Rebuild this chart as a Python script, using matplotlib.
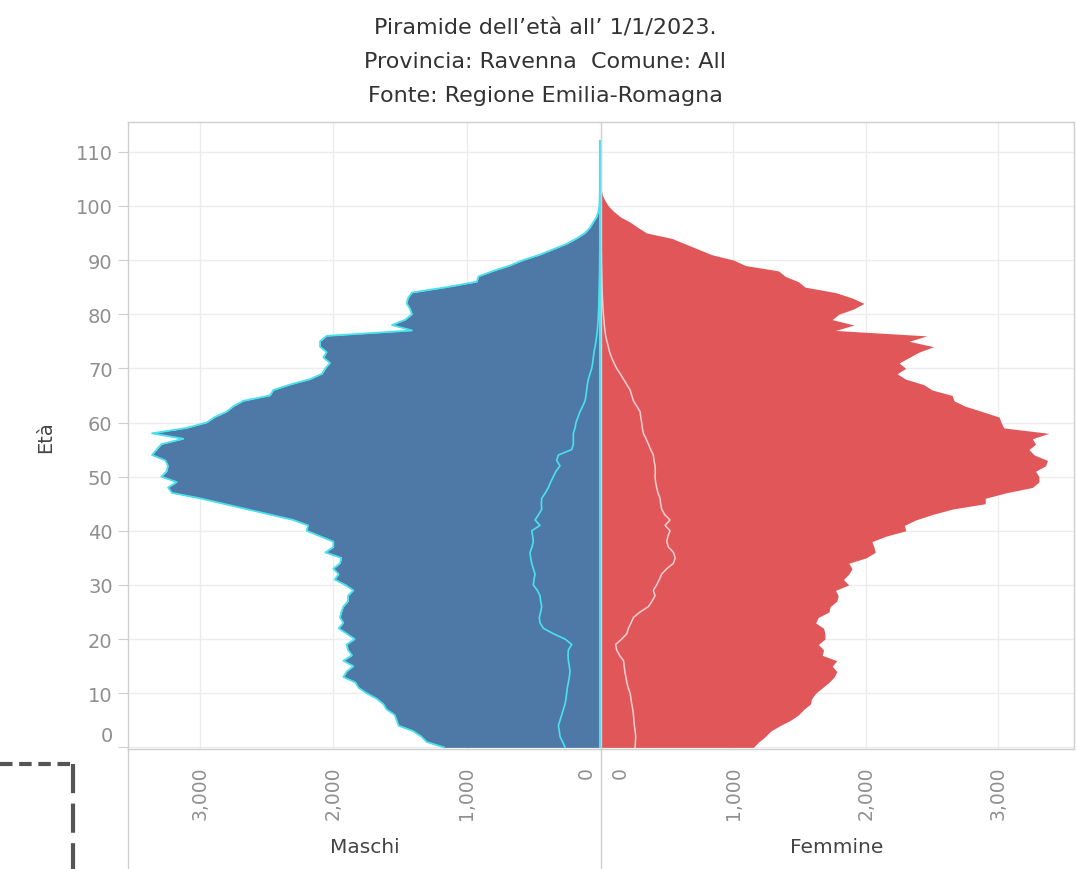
import numpy as np
import matplotlib
matplotlib.use("Agg")
import matplotlib.pyplot as plt
import matplotlib.transforms as mtransforms
from matplotlib.lines import Line2D

# eta' 0..112
eta = list(range(0, 113))

maschi = [1170, 1300, 1340, 1400, 1510, 1525, 1540, 1600, 1625, 1675,
          1750, 1810, 1835, 1925, 1900, 1850, 1925, 1860, 1890, 1900,
          1840, 1900, 1960, 1925, 1950, 1940, 1925, 1890, 1890, 1850,
          1910, 1990, 1960, 2000, 1950, 1940, 2060, 2000, 2000, 2100,
          2200, 2190, 2300, 2475, 2650, 2825, 3000, 3210, 3240, 3175,
          3290, 3250, 3240, 3260, 3360, 3325, 3290, 3125, 3360, 3100,
          2950, 2890, 2800, 2750, 2675, 2475, 2450, 2325, 2175, 2085,
          2060, 2025, 2075, 2050, 2100, 2100, 2050, 1410, 1560, 1460,
          1410, 1425, 1450, 1440, 1410, 1150, 925, 910, 800, 675,
          575, 450, 350, 250, 175, 112, 75, 50, 25, 12,
          5, 3, 2, 1, 1, 1, 0, 0, 0, 0, 0, 0, 1]

femmine = [1150, 1190, 1240, 1280, 1350, 1430, 1490, 1530, 1580, 1590,
           1620, 1670, 1720, 1760, 1780, 1745, 1780, 1670, 1680, 1640,
           1690, 1690, 1680, 1620, 1640, 1720, 1730, 1780, 1790, 1770,
           1870, 1830, 1870, 1895, 1870, 2000, 2070, 2060, 2045, 2150,
           2300, 2290, 2375, 2500, 2650, 2900, 2900, 3055, 3255, 3305,
           3305, 3280, 3355, 3370, 3270, 3230, 3280, 3255, 3380, 3040,
           3020, 3005, 2880, 2750, 2665, 2650, 2500, 2435, 2300, 2235,
           2300, 2250, 2325, 2400, 2510, 2325, 2460, 1770, 1910, 1745,
           1795, 1910, 1985, 1895, 1770, 1540, 1490, 1390, 1340, 1090,
           1000, 835, 735, 635, 535, 345, 280, 220, 145, 95,
           55, 30, 10, 3, 1, 0, 0, 0, 0, 0, 0, 0, 0]

# stranieri
maschi_str = [262, 280, 300, 305, 312, 300, 287, 275, 262, 255,
              250, 245, 237, 230, 225, 230, 237, 240, 237, 212,
              262, 350, 425, 450, 455, 445, 437, 445, 450, 470,
              500, 495, 487, 500, 512, 520, 525, 510, 500, 505,
              512, 450, 487, 460, 437, 440, 437, 410, 387, 370,
              350, 330, 300, 325, 312, 212, 200, 200, 200, 187,
              180, 165, 150, 130, 112, 105, 100, 95, 87, 75,
              62, 55, 50, 45, 37, 30, 25, 20, 17, 14,
              12, 10, 9, 8, 7, 6, 5, 4, 3, 3,
              2, 2, 1, 1, 1, 0, 0, 0, 0, 0,
              0, 0, 0, 0, 0, 0, 0, 0, 0, 0, 0, 0, 0]

femmine_str = [257, 260, 262, 258, 252, 248, 245, 240, 232, 226,
               220, 205, 195, 188, 180, 175, 170, 140, 118, 110,
               156, 195, 207, 227, 245, 295, 358, 385, 408, 395,
               420, 440, 458, 496, 547, 560, 547, 509, 496, 505,
               521, 484, 521, 480, 458, 450, 446, 430, 420, 412,
               408, 410, 408, 400, 395, 375, 358, 340, 320, 312,
               307, 300, 295, 270, 245, 232, 220, 195, 170, 145,
               118, 98, 80, 65, 55, 45, 35, 30, 25, 22,
               18, 15, 13, 11, 9, 8, 7, 6, 5, 4,
               3, 3, 2, 2, 1, 1, 1, 0, 0, 0,
               0, 0, 0, 0, 0, 0, 0, 0, 0, 0, 0, 0, 0]

xticks = [0, 1000, 2000, 3000]
yticks = list(range(0, 111, 10))

blu = "#4e79a7"
rosso = "#e15759"
ciano = "#48e2ef"
grigio = "#8f8f8f"
bordo = "#cfcfcf"
scuro = "#444444"

W, H = 1077, 870
fig = plt.figure(figsize=(W / 100, H / 100), dpi=100)
axm = fig.add_axes([128 / W, 1 - 750 / H, 472 / W, 627 / H])
axf = fig.add_axes([601 / W, 1 - 750 / H, 473 / W, 627 / H])

for ax in (axm, axf):
    ax.set_axisbelow(True)
    ax.grid(color="#ececec", lw=1)
    ax.set_ylim(-0.3, 115.5)
    ax.set_yticks(yticks)
    ax.set_xticks(xticks)
    ax.set_xticklabels(["{:,}".format(v) for v in xticks], rotation=90)
    ax.tick_params(axis="x", length=0, pad=12, labelsize=13.5, labelcolor=grigio)
    for s in ax.spines.values():
        s.set_color(bordo)
        s.set_linewidth(1)

axm.set_xlim(3540, 0)
axf.set_xlim(0, 3570)
axm.spines["right"].set_visible(False)

axm.tick_params(axis="y", length=7, color=bordo, pad=4, labelsize=14, labelcolor=grigio)
axf.tick_params(axis="y", length=0, labelleft=False)

# maschi
axm.fill_betweenx(eta, 0, maschi, color=blu, lw=0)
axm.plot(maschi, eta, color=ciano, lw=1.3)
axm.plot(np.zeros(len(eta)), eta, color=ciano, lw=1.5, clip_on=False, zorder=5)
axm.plot(maschi_str, eta, color=ciano, lw=1.2)

# femmine
axf.fill_betweenx(eta, 0, femmine, color=rosso, lw=0)
axf.plot(femmine_str, eta, color="#f6cfcf", lw=1.1)

# sposta le etichette "0" come in tableau
lab0 = axm.get_xticklabels()[0]
lab0.set_transform(lab0.get_transform() + mtransforms.ScaledTranslation(-14 / 100, 0, fig.dpi_scale_trans))
lab0 = axf.get_xticklabels()[0]
lab0.set_transform(lab0.get_transform() + mtransforms.ScaledTranslation(19 / 100, 0, fig.dpi_scale_trans))
lab0 = axm.get_yticklabels()[0]
lab0.set_transform(lab0.get_transform() + mtransforms.ScaledTranslation(0, 14 / 100, fig.dpi_scale_trans))

# linee del pannello sotto gli assi
for xp in (128, 601):
    fig.add_artist(Line2D([xp / W, xp / W], [1 - 750 / H, 0], transform=fig.transFigure,
                          color=bordo, lw=1))

tit = ["Piramide dell\u2019et\u00e0 all\u2019 1/1/2023.",
       "Provincia: Ravenna  Comune: All",
       "Fonte: Regione Emilia-Romagna"]
for t, yp in zip(tit, [34, 68, 102]):
    fig.text(545 / W, 1 - yp / H, t, ha="center", va="baseline", fontsize=16,
             color="#333333")

fig.text(46 / W, 1 - 437 / H, "Et\u00e0", rotation=90, ha="center", va="center",
         fontsize=14, color=scuro)
fig.text(365 / W, 1 - 853 / H, "Maschi", ha="center", va="baseline",
         fontsize=14.5, color=scuro)
fig.text(837 / W, 1 - 853 / H, "Femmine", ha="center", va="baseline",
         fontsize=14.5, color=scuro)

# riquadro tratteggiato in basso a sinistra
fig.add_artist(Line2D([0, 74 / W], [1 - 765 / H, 1 - 765 / H], transform=fig.transFigure,
                      color="#555555", lw=3, ls=(0, (3, 1.6))))
fig.add_artist(Line2D([73 / W, 73 / W], [1 - 765 / H, 0], transform=fig.transFigure,
                      color="#555555", lw=3, ls=(0, (7, 2.5))))

fig.savefig("out.png", dpi=100)
